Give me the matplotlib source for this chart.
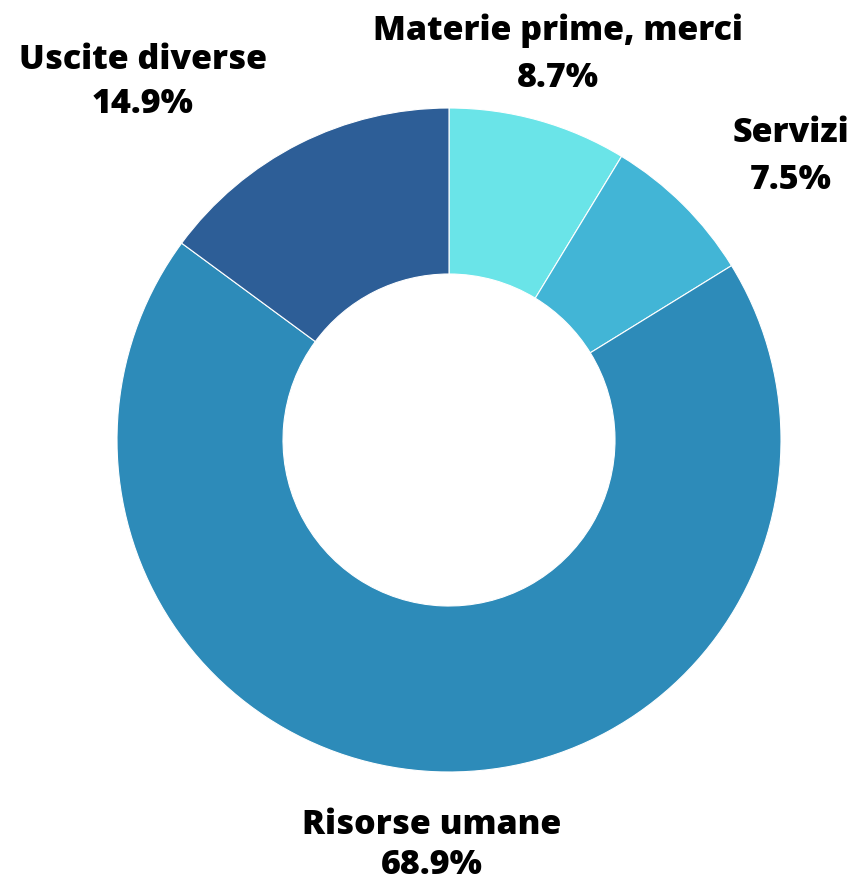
import matplotlib
matplotlib.use("Agg")
import matplotlib.pyplot as plt

labels = ["Materie prime, merci", "Servizi", "Risorse umane", "Uscite diverse"]
values = [8.7, 7.5, 68.9, 14.9]
colors = ["#6ae4e8", "#42b5d6", "#2d8bb9", "#2d5e97"]

W, H = 856, 887
fig = plt.figure(figsize=(W / 100, H / 100), dpi=100)
cx, cy, R = 449, 441, 332
ax = fig.add_axes([(cx - R) / W, (H - cy - R) / H, 2 * R / W, 2 * R / H])
ax.pie(values, colors=colors, startangle=90, counterclock=False, radius=1,
       wedgeprops=dict(width=0.5, edgecolor="white", linewidth=0.8))
ax.set_xlim(-1, 1)
ax.set_ylim(-1, 1)
ax.set_aspect("equal")
ax.axis("off")

# label centers in pixel coords (name line y, pct line y)
pos = {
    "Materie prime, merci": (558, 31, 78),
    "Servizi": (791, 133, 180),
    "Risorse umane": (432, 825, 865),
    "Uscite diverse": (143, 60, 104),
}
font = dict(family=["Open Sans", "DejaVu Sans"], weight="heavy", fontsize=24.5, color="black")
for lab, v in zip(labels, values):
    px, y1, y2 = pos[lab]
    fig.text(px / W, 1 - y1 / H, lab, ha="center", va="center", **font)
    fig.text(px / W, 1 - y2 / H, f"{v:.1f}%", ha="center", va="center", **font)

fig.savefig("out.png", dpi=100, facecolor="white")
